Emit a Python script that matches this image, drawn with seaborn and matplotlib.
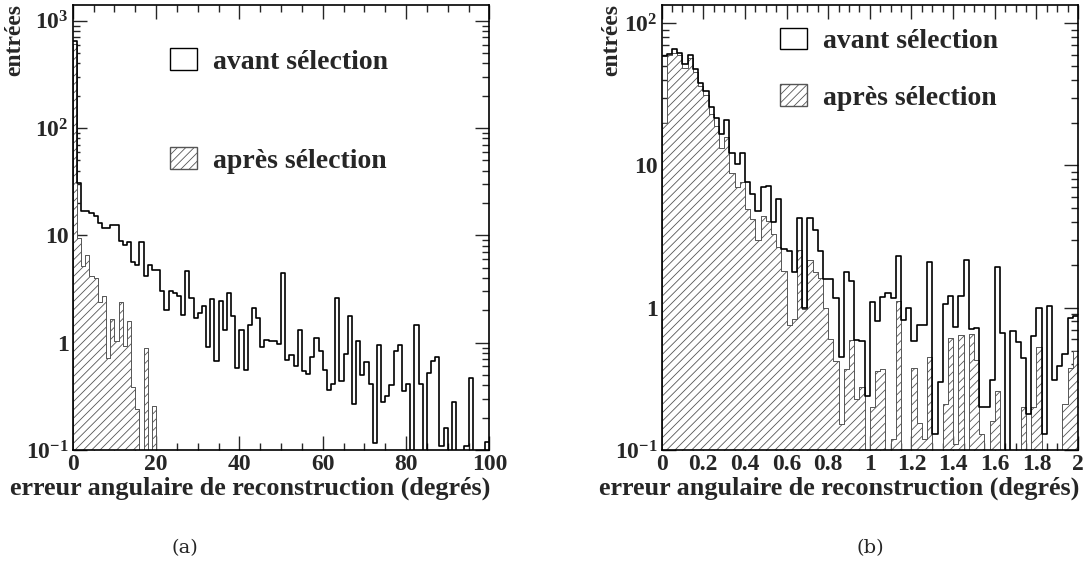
import numpy as np
import pandas as pd
import matplotlib
matplotlib.use("Agg")
import matplotlib.pyplot as plt
from matplotlib.patches import Patch
from matplotlib.ticker import LogLocator, MultipleLocator, NullFormatter, FuncFormatter
import seaborn as sns

# (a) 100 bins de 1 degre entre 0 et 100
bins_a = np.linspace(0, 100, 101)
avant_a = [650, 31, 17, 17, 16.2, 15, 12.9, 11.8, 11.8, 12.4,
           12.4, 8.9, 8.1, 8.6, 5.7, 5.3, 8.6, 4.2, 5.3, 4.8,
           4.8, 3.0, 2.0, 3.0, 2.9, 2.7, 1.8, 4.7, 2.6, 1.7,
           1.9, 2.2, 0.92, 2.55, 0.68, 2.43, 1.3, 2.9, 1.77, 0.58,
           1.3, 0.56, 1.45, 2.1, 1.7, 0.92, 1.06, 1.04, 1.04, 0.97,
           4.5, 0.69, 0.76, 0.6, 1.31, 0.55, 0.51, 0.74, 1.1, 0.84,
           0.56, 0.365, 0.41, 2.6, 0.44, 0.79, 1.76, 0.27, 1.04, 0.5,
           0.66, 0.41, 0.117, 0.95, 0.28, 0.32, 0.4, 0.84, 0.96, 0.355,
           0.41, 0, 1.45, 0.41, 0, 0.52, 0.67, 0.73, 0.11, 0.16,
           0, 0.28, 0, 0, 0.11, 0.47, 0, 0, 0, 0.119]
apres_a = [610, 9.5, 5.2, 6.5, 4.2, 4.0, 2.4, 2.7, 0.72, 1.67,
           1.04, 2.4, 0.93, 1.6, 0.39, 0.24, 0, 0.9, 0, 0.255] + [0] * 80

# (b) 80 bins de 0.025 degre entre 0 et 2
bins_b = np.linspace(0, 2, 81)
avant_b = [58.7, 60.3, 66, 62, 51.3, 59.3, 47.3, 38.1, 33.3, 25.7,
           21.6, 16.6, 20.8, 12.3, 10.2, 12.3, 7.6, 6.3, 4.8, 7.0,
           7.2, 4.0, 5.8, 2.58, 2.5, 1.77, 4.3, 1.0, 4.3, 3.5,
           2.5, 1.6, 1.6, 1.17, 0.45, 1.77, 1.55, 0.59, 0.58, 0.24,
           1.1, 0.81, 1.19, 1.26, 1.17, 2.32, 0.82, 1.0, 0.58, 0.75,
           0.76, 2.08, 0.13, 0.3, 1.06, 1.21, 0.73, 1.21, 2.16, 0.71,
           0.72, 0.2, 0.2, 0.31, 1.92, 0.66, 0, 0.69, 0.57, 0.44,
           0.18, 0.63, 1.0, 0.13, 1.02, 0.31, 0.39, 0.47, 0.85, 0.87]
apres_b = [20, 59.5, 62, 60, 48, 57, 45, 36, 31, 23,
           19, 13.3, 15.9, 8.9, 7.0, 7.6, 4.9, 4.2, 3.0, 4.4,
           4.1, 3.3, 2.65, 1.8, 0.755, 0.83, 2.55, 0.98, 2.16, 1.77,
           1.63, 1.0, 0.6, 0.42, 0.153, 0.37, 0.59, 0.23, 0.276, 0,
           0.2, 0.36, 0.37, 0, 0.12, 1.12, 0, 0, 0.38, 0.155,
           0.12, 0.45, 0, 0, 0.21, 0.61, 0.11, 0.64, 0, 0.65,
           0.43, 0.13, 0, 0.16, 0.26, 0, 0, 0, 0, 0.2,
           0, 0.2, 0.53, 0, 0, 0, 0, 0.21, 0.38, 0.5]

sns.set_style("ticks")
plt.rcParams["font.family"] = ["Liberation Serif", "DejaVu Serif"]
plt.rcParams["font.weight"] = "bold"
plt.rcParams["mathtext.fontset"] = "custom"
plt.rcParams["mathtext.rm"] = "Liberation Serif:bold"
plt.rcParams["mathtext.bf"] = "Liberation Serif:bold"
plt.rcParams["mathtext.default"] = "rm"
plt.rcParams["hatch.color"] = "#555555"
plt.rcParams["hatch.linewidth"] = 0.6

HATCH = "////"
labels_y = {1000: r"$10^{3}$", 100: r"$10^{2}$", 10: "10", 1: "1", 0.1: r"$10^{-1}$"}


def fmt_y(v, pos):
    for k, s in labels_y.items():
        if abs(v - k) < 1e-6 * k:
            return s
    return ""


def draw(ax, edges, avant, apres, ymax):
    centers = (edges[:-1] + edges[1:]) / 2
    df = pd.DataFrame({"x": centers, "avant": avant, "apres": apres})
    edges = list(edges)
    sns.histplot(data=df, x="x", weights="apres", bins=edges, element="step",
                 fill=True, ax=ax, facecolor="white", edgecolor="#555555",
                 hatch=HATCH, linewidth=0.7, alpha=1)
    sns.histplot(data=df, x="x", weights="avant", bins=edges, element="step",
                 fill=False, ax=ax, color="black", linewidth=1.2)
    ax.set_yscale("log")
    ax.set_ylim(0.1, ymax)
    ax.set_xlim(edges[0], edges[-1])
    ax.set_xlabel("")
    ax.set_ylabel("")
    ax.yaxis.set_major_locator(LogLocator(base=10))
    ax.yaxis.set_minor_locator(LogLocator(base=10, subs=np.arange(2, 10)))
    ax.yaxis.set_major_formatter(FuncFormatter(fmt_y))
    ax.yaxis.set_minor_formatter(NullFormatter())
    ax.tick_params(which="both", direction="in", top=True, right=True,
                   width=1, labelsize=17, pad=3)
    ax.tick_params(which="major", length=10)
    ax.tick_params(which="minor", length=5)
    for sp in ax.spines.values():
        sp.set_linewidth(1.2)
        sp.set_color("black")


fig = plt.figure(figsize=(10.84, 5.63), dpi=100)
ax1 = fig.add_axes([0.0671, 0.2007, 0.3844, 0.7904])
ax2 = fig.add_axes([0.6104, 0.2007, 0.3841, 0.7904])

draw(ax1, bins_a, avant_a, apres_a, 1400)
ax1.xaxis.set_major_locator(MultipleLocator(20))
ax1.xaxis.set_minor_locator(MultipleLocator(5))
ax1.xaxis.set_major_formatter(FuncFormatter(lambda v, p: "%g" % v))

draw(ax2, bins_b, avant_b, apres_b, 134)
ax2.xaxis.set_major_locator(MultipleLocator(0.2))
ax2.xaxis.set_minor_locator(MultipleLocator(0.05))
ax2.xaxis.set_major_formatter(FuncFormatter(lambda v, p: "%g" % round(v, 2)))

handles = [Patch(facecolor="white", edgecolor="black", linewidth=1),
           Patch(facecolor="white", edgecolor="#555555", hatch=HATCH, linewidth=1)]
names = ["avant sélection", "après sélection"]
leg_kw = dict(loc="upper left", frameon=False, fontsize=20, handlelength=0.97,
              handleheight=0.83, handletextpad=0.58, borderpad=0, borderaxespad=0)
ax1.legend(handles, names, bbox_to_anchor=(0.234, 0.903), labelspacing=2.62, **leg_kw)
ax2.legend(handles, names, bbox_to_anchor=(0.284, 0.949), labelspacing=1.08, **leg_kw)

xtitle = "erreur angulaire de reconstruction (degrés)"
fig.text(490 / 1084, 1 - 477 / 563, xtitle, ha="right", va="top", fontsize=18.8)
fig.text(1079 / 1084, 1 - 477 / 563, xtitle, ha="right", va="top", fontsize=18.8)
fig.text(15 / 1084, 1 - 4 / 563, "entrées", rotation=90, ha="center", va="top", fontsize=17)
fig.text(612 / 1084, 1 - 4 / 563, "entrées", rotation=90, ha="center", va="top", fontsize=17)

fig.text(185 / 1084, 1 - 548 / 563, "(a)", ha="center", va="center",
         fontsize=14, fontweight="normal", family="DejaVu Serif")
fig.text(870 / 1084, 1 - 548 / 563, "(b)", ha="center", va="center",
         fontsize=14, fontweight="normal", family="DejaVu Serif")

fig.savefig("out.png", dpi=100, facecolor="white")
